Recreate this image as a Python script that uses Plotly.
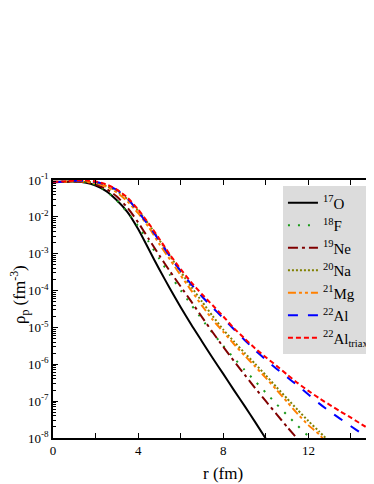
import numpy as np
import plotly.graph_objects as go

# radius grid (fm) at which values were read, per curve
r_O17 = [0, 0.5, 1, 1.5, 2, 2.5, 3, 3.5, 4, 4.5, 5, 5.5, 6, 6.5, 7, 7.5, 8, 8.5, 9, 9.5, 10]
log10_rho_O17 = [-1.05, -1.05, -1.04, -1.07, -1.15, -1.3, -1.55, -1.87, -2.33, -2.88, -3.43, -3.95,
                 -4.45, -4.93, -5.38, -5.83, -6.26, -6.7, -7.13, -7.57, -8.02]

r_F18 = [0, 0.5, 1, 1.5, 2, 2.5, 3, 3.5, 4, 4.5, 5, 5.5, 6, 6.5, 7, 7.5, 8, 8.5, 9, 9.5, 10, 10.5, 11, 11.5, 12, 12.2]
log10_rho_F18 = [-1.06, -1.05, -1.04, -1.06, -1.13, -1.3, -1.56, -1.88, -2.25, -2.68, -3.14, -3.58, -3.99,
                 -4.39, -4.78, -5.15, -5.5, -5.83, -6.15, -6.46, -6.77, -7.08, -7.38, -7.67, -7.95, -8.05]

r_Ne19 = [0, 0.5, 1, 1.5, 2, 2.5, 3, 3.5, 4, 4.5, 5, 5.5, 6, 6.5, 7, 7.5, 8, 8.5, 9, 9.5, 10, 10.5, 11, 11.5]
log10_rho_Ne19 = [-1.06, -1.05, -1.04, -1.06, -1.12, -1.24, -1.45, -1.75, -2.15, -2.6, -3.05, -3.48,
                  -3.89, -4.3, -4.72, -5.13, -5.53, -5.91, -6.28, -6.65, -7.0, -7.35, -7.7, -8.03]

r_Na20 = [0, 0.5, 1, 1.5, 2, 2.5, 3, 3.5, 4, 4.5, 5, 5.5, 6, 6.5, 7, 7.5, 8, 8.5, 9, 9.5, 10, 10.5, 11, 11.5, 12, 12.5, 12.9]
log10_rho_Na20 = [-1.06, -1.05, -1.03, -1.04, -1.08, -1.16, -1.3, -1.52, -1.83, -2.2, -2.63, -3.06, -3.49,
                  -3.9, -4.3, -4.69, -5.06, -5.38, -5.69, -5.99, -6.3, -6.62, -6.93, -7.24, -7.54, -7.82, -8.05]

r_Mg21 = [0, 0.5, 1, 1.5, 2, 2.5, 3, 3.5, 4, 4.5, 5, 5.5, 6, 6.5, 7, 7.5, 8, 8.5, 9, 9.5, 10, 10.5, 11, 11.5, 12, 12.5, 12.7]
log10_rho_Mg21 = [-1.06, -1.05, -1.03, -1.04, -1.09, -1.18, -1.34, -1.58, -1.9, -2.28, -2.74, -3.16, -3.59,
                  -4.0, -4.41, -4.79, -5.12, -5.45, -5.76, -6.06, -6.37, -6.69, -7.02, -7.35, -7.65, -7.9, -8.03]

r_Al22 = [0, 0.5, 1, 1.5, 2, 2.5, 3, 3.5, 4, 4.5, 5, 5.5, 6, 6.5, 7, 7.5, 8, 8.5, 9, 9.5, 10, 10.5, 11, 11.5,
          12, 12.5, 13, 13.5, 14, 14.5, 14.9]
log10_rho_Al22 = [-1.06, -1.05, -1.02, -1.02, -1.05, -1.13, -1.27, -1.5, -1.86, -2.24, -2.65, -3.08, -3.47,
                  -3.83, -4.16, -4.46, -4.75, -5.05, -5.34, -5.62, -5.88, -6.12, -6.35, -6.58, -6.82, -7.06,
                  -7.28, -7.48, -7.68, -7.88, -8.04]

r_Al22_triax = [0, 0.5, 1, 1.5, 2, 2.5, 3, 3.5, 4, 4.5, 5, 5.5, 6, 6.5, 7, 7.5, 8, 8.5, 9, 9.5, 10, 10.5, 11,
                11.5, 12, 12.5, 13, 13.5, 14, 14.5, 14.9]
log10_rho_Al22_triax = [-1.05, -1.04, -1.01, -1.01, -1.04, -1.12, -1.26, -1.48, -1.8, -2.18, -2.6, -3.03, -3.42,
                        -3.78, -4.1, -4.4, -4.7, -5.02, -5.3, -5.57, -5.81, -6.04, -6.28, -6.51, -6.72, -6.92,
                        -7.1, -7.28, -7.45, -7.63, -7.77]

series_names = ["<sup>17</sup>O", "<sup>18</sup>F", "<sup>19</sup>Ne", "<sup>20</sup>Na",
                "<sup>21</sup>Mg", "<sup>22</sup>Al", "<sup>22</sup>Al<sub>triax</sub>"]

x_tick_vals = [0, 2, 4, 6, 8, 10, 12, 14]
x_tick_text = ["0", "", "4", "", "8", "", "12", ""]
y_tick_vals = [1e-8, 1e-7, 1e-6, 1e-5, 1e-4, 1e-3, 1e-2, 1e-1]
y_tick_text = ["10<sup>-8</sup>", "10<sup>-7</sup>", "10<sup>-6</sup>", "10<sup>-5</sup>",
               "10<sup>-4</sup>", "10<sup>-3</sup>", "10<sup>-2</sup>", "10<sup>-1</sup>"]

data = [
    (r_O17, log10_rho_O17, "#000000", "solid"),
    (r_F18, log10_rho_F18, "#1a9a1a", "2px,8px"),
    (r_Ne19, log10_rho_Ne19, "#800000", "10px,4px,3px,4px"),
    (r_Na20, log10_rho_Na20, "#808000", "2px,2px"),
    (r_Mg21, log10_rho_Mg21, "#ff8000", "8px,3px,3px,3px,3px,3px"),
    (r_Al22, log10_rho_Al22, "#0000ff", "10px,10px"),
    (r_Al22_triax, log10_rho_Al22_triax, "#ff0000", "5px,3px"),
]

FONT = "Times New Roman"

fig = go.Figure()
for (r, lg, col, dash), name in zip(data, series_names):
    fig.add_trace(go.Scatter(
        x=r, y=10 ** np.array(lg), mode="lines", name=name,
        line=dict(color=col, width=2, dash=dash, shape="spline", smoothing=0.6),
    ))

minor_y = [m * 10.0 ** k for k in range(-8, -1) for m in range(2, 10)]

# page has an 8px body margin, so the figure is laid out 8px up/left
fig.update_layout(
    width=366, height=476,
    margin=dict(l=45, r=0, t=172, b=46),
    paper_bgcolor="white", plot_bgcolor="white",
    font=dict(family=FONT, size=13, color="black"),
    showlegend=True,
    legend=dict(x=0.73, y=0.975, xanchor="left", yanchor="top",
                bgcolor="#dcdcdc", borderwidth=0,
                font=dict(family=FONT, size=15, color="black"),
                tracegroupgap=0, itemwidth=30),
    xaxis=dict(range=[0, 14.8], tickvals=x_tick_vals, ticktext=x_tick_text,
               ticks="inside", ticklen=5, tickwidth=1.2, tickcolor="black",
               showline=True, linecolor="black", linewidth=1.5, mirror="ticks",
               showgrid=False, zeroline=False, automargin=False,
               tickfont=dict(family=FONT, size=13)),
    yaxis=dict(type="log", range=[-8, -1], tickvals=y_tick_vals, ticktext=y_tick_text,
               ticks="inside", ticklen=5, tickwidth=1.2, tickcolor="black",
               showline=True, linecolor="black", linewidth=1.5, mirror=False,
               showgrid=False, zeroline=False, automargin=False,
               tickfont=dict(family=FONT, size=13),
               minor=dict(tickvals=minor_y, ticks="inside", ticklen=3, tickcolor="black", showgrid=False)),
    annotations=[
        dict(text="ρ<sub>p</sub> (fm<sup>-3</sup>)", xref="paper", yref="paper",
             x=0, y=0.554, xshift=-34, xanchor="center", yanchor="middle",
             textangle=-90, showarrow=False, font=dict(family=FONT, size=17)),
        dict(text="r (fm)", xref="paper", yref="paper",
             x=0.539, y=0, yshift=-35, xanchor="center", yanchor="middle",
             showarrow=False, font=dict(family=FONT, size=17)),
    ],
)

fig.write_html("out.html")
